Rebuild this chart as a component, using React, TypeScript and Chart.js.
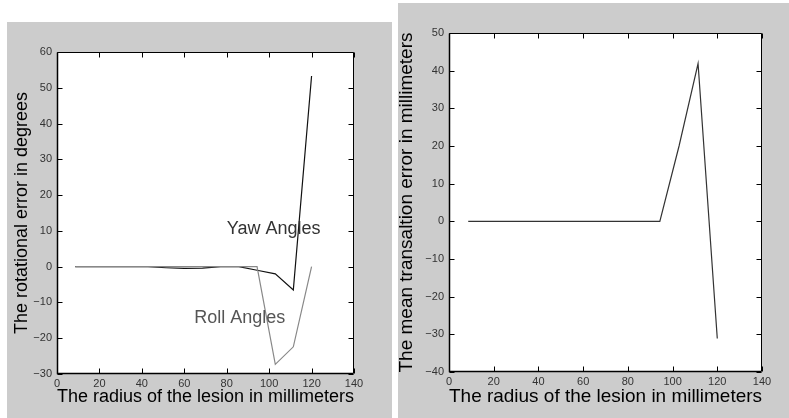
import React, { useEffect, useRef } from "react";
import { Chart, registerables } from "chart.js";

Chart.register(...registerables);

// ---- data ----
const radii = [8.6, 17.1, 25.7, 34.3, 42.9, 51.4, 60, 68.6, 77.1, 85.7, 94.3, 102.9, 111.4, 120];
const yawError = [0, 0, 0, 0, 0, -0.3, -0.5, -0.4, 0, 0, -1, -2, -6.5, 53.3];
const rollError = [0, 0, 0, 0, 0, 0, 0, 0, 0, 0, 0, -27.3, -22.4, 0];
const translationError = [0, 0, 0, 0, 0, 0, 0, 0, 0, 0, 0, 20, 41.9, -31.1];

const xTickRange = [0, 140];
const leftYRange = [-30, 60];
const rightYRange = [-40, 50];
const tickStep = { x: 20, yLeft: 10, yRight: 10 };

const labels = [
  { text: "Yaw Angles", x: 80, y: 10.5, color: "#333333" },
  { text: "Roll Angles", x: 64.7, y: -14.4, color: "#555555" },
];

const FONT = "'Liberation Sans', Arial, Helvetica, sans-serif";
const PANEL_BG = "rgb(204,204,204)";

const toPoints = (ys: number[]) => radii.map((x, i) => ({ x, y: ys[i] }));
const fmt = (v: any) => String(v).replace("-", "\u2212");

// Gray figure background with a white axes box, painted before anything else.
const bgPlugin = {
  id: "figureBg",
  beforeDraw(chart: any) {
    const { ctx, chartArea: a, width, height } = chart;
    ctx.save();
    ctx.fillStyle = PANEL_BG;
    ctx.fillRect(0, 0, width, height);
    if (a) {
      ctx.fillStyle = "#ffffff";
      ctx.fillRect(a.left, a.top, a.right - a.left, a.bottom - a.top);
    }
    ctx.restore();
  },
};

const framePlugin = {
  id: "matlabFrame",
  afterDraw(chart: any) {
    const { ctx, chartArea: a, scales } = chart;
    const L = Math.round(a.left) + 0.5;
    const R = Math.round(a.right) - 0.5;
    const T = Math.round(a.top) + 0.5;
    const B = Math.round(a.bottom) - 0.5;
    ctx.save();
    ctx.strokeStyle = "#000";
    ctx.lineWidth = 1;
    ctx.beginPath();
    ctx.moveTo(L, T);
    ctx.lineTo(R, T);
    ctx.lineTo(R, B);
    ctx.stroke();
    ctx.lineWidth = 1.5;
    ctx.beginPath();
    ctx.moveTo(R, B);
    ctx.lineTo(L, B);
    ctx.lineTo(L, T);
    ctx.stroke();
    ctx.lineWidth = 1;
    const len = 5;
    ctx.beginPath();
    scales.x.ticks.forEach((t: any) => {
      const px = Math.round(scales.x.getPixelForValue(t.value)) + 0.5;
      ctx.moveTo(px, B);
      ctx.lineTo(px, B - len);
      ctx.moveTo(px, T);
      ctx.lineTo(px, T + len);
    });
    scales.y.ticks.forEach((t: any) => {
      const py = Math.round(scales.y.getPixelForValue(t.value)) + 0.5;
      ctx.moveTo(L, py);
      ctx.lineTo(L + len, py);
      ctx.moveTo(R, py);
      ctx.lineTo(R - len, py);
    });
    ctx.stroke();
    ctx.restore();
  },
};

const textPlugin = {
  id: "annotText",
  afterDatasetsDraw(chart: any) {
    const items = chart.options.plugins.annotText?.items || [];
    const { ctx, scales } = chart;
    ctx.save();
    ctx.font = `18px ${FONT}`;
    ctx.textAlign = "left";
    ctx.textBaseline = "middle";
    items.forEach((it: any) => {
      ctx.fillStyle = it.color;
      ctx.fillText(it.text, scales.x.getPixelForValue(it.x), scales.y.getPixelForValue(it.y));
    });
    ctx.restore();
  },
};

function makeOptions(cfg: any) {
  return {
    responsive: false,
    animation: false,
    events: [],
    layout: { padding: cfg.padding },
    plugins: {
      legend: { display: false },
      tooltip: { enabled: false },
      annotText: { items: cfg.items || [] },
    },
    scales: {
      x: {
        type: "linear",
        min: xTickRange[0],
        max: xTickRange[1],
        afterFit: (s: any) => {
          s.height = cfg.xHeight;
        },
        ticks: {
          stepSize: tickStep.x,
          font: { family: FONT, size: 11 },
          color: "#333",
          padding: 3,
          maxRotation: 0,
          autoSkip: false,
          callback: fmt,
        },
        grid: { display: false, drawTicks: false },
        border: { display: false },
        title: {
          display: true,
          text: "The radius of the lesion in millimeters",
          color: "#000",
          font: { family: FONT, size: cfg.titleSize },
          padding: { top: 0, bottom: cfg.xTitlePad },
        },
      },
      y: {
        type: "linear",
        min: cfg.yRange[0],
        max: cfg.yRange[1],
        afterFit: (s: any) => {
          s.width = cfg.yWidth;
        },
        ticks: {
          stepSize: cfg.yStep,
          font: { family: FONT, size: 11 },
          color: "#333",
          padding: 5,
          autoSkip: false,
          callback: fmt,
        },
        grid: { display: false, drawTicks: false },
        border: { display: false },
        title: {
          display: true,
          text: cfg.yTitle,
          color: "#000",
          font: { family: FONT, size: cfg.titleSize },
          padding: { top: cfg.yTitlePad, bottom: 0 },
        },
      },
    },
  };
}

function Panel(props: { cfg: any; datasets: any[]; style: any; w: number; h: number }) {
  const ref = useRef<HTMLCanvasElement>(null);
  useEffect(() => {
    if (!ref.current) return;
    const chart = new Chart(ref.current, {
      type: "line",
      data: { datasets: props.datasets },
      options: makeOptions(props.cfg) as any,
      plugins: [bgPlugin, framePlugin, textPlugin],
    });
    return () => chart.destroy();
  }, []);
  return (
    <div style={{ position: "fixed", ...props.style, width: props.w, height: props.h }}>
      <canvas ref={ref} width={props.w} height={props.h} style={{ display: "block", width: props.w, height: props.h }} />
    </div>
  );
}

const lineStyle = { pointRadius: 0, tension: 0, fill: false, borderWidth: 1.2 };

export default function App() {
  const leftDatasets = [
    { ...lineStyle, label: "Roll Angles", data: toPoints(rollError), borderColor: "#888888" },
    { ...lineStyle, label: "Yaw Angles", data: toPoints(yawError), borderColor: "#111111" },
  ];
  const rightDatasets = [
    { ...lineStyle, label: "Translation", data: toPoints(translationError), borderColor: "#333333" },
  ];
  return (
    <div>
      <Panel
        style={{ left: 7, top: 22 }}
        w={385}
        h={396}
        datasets={leftDatasets}
        cfg={{
          padding: { top: 30, right: 38, left: 0, bottom: 0 },
          xHeight: 44,
          yWidth: 50,
          yRange: leftYRange,
          yStep: tickStep.yLeft,
          yTitle: "The rotational error in degrees",
          titleSize: 18,
          xTitlePad: 10,
          yTitlePad: 4,
          items: labels,
        }}
      />
      <Panel
        style={{ left: 398, top: 3 }}
        w={391}
        h={415}
        datasets={rightDatasets}
        cfg={{
          padding: { top: 30, right: 27, left: 0, bottom: 0 },
          xHeight: 46,
          yWidth: 51,
          yRange: rightYRange,
          yStep: tickStep.yRight,
          yTitle: "The mean transaltion error in millimeters",
          titleSize: 19,
          xTitlePad: 10,
          yTitlePad: -3,
          items: [],
        }}
      />
    </div>
  );
}
